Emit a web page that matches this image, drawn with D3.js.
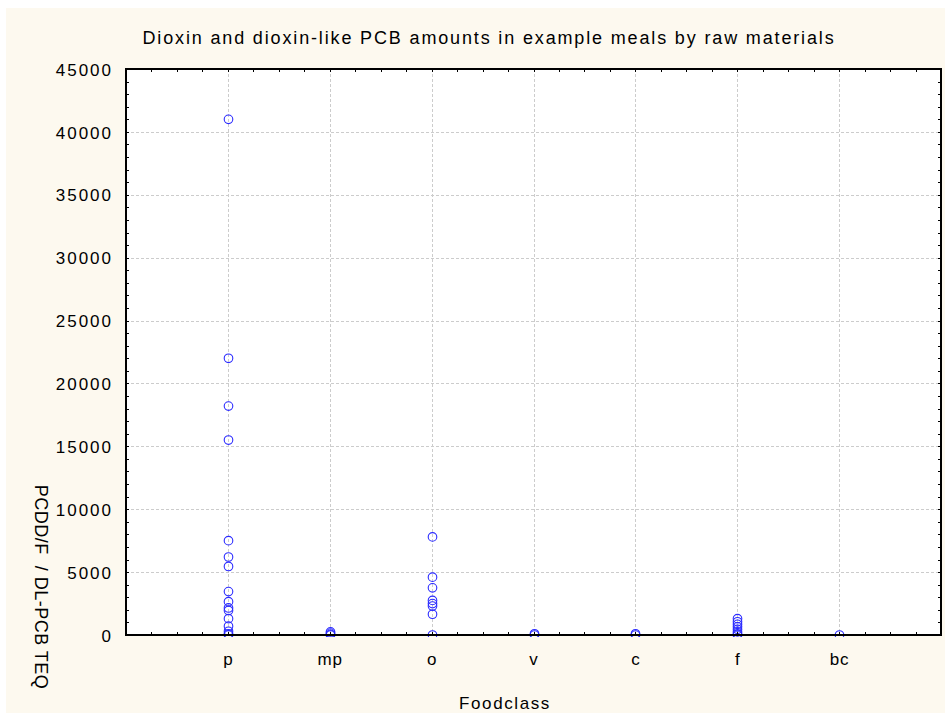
<!DOCTYPE html>
<html><head><meta charset="utf-8">
<script src="https://cdn.jsdelivr.net/npm/d3@7/dist/d3.min.js"></script>
<style>body{margin:0;background:#fff}svg{display:block}text{font-family:"Liberation Sans",Arial,sans-serif;fill:#000}</style>
</head><body><svg id="c" width="945" height="718"></svg>
<script>
const categories = ["p","mp","o","v","c","f","bc"];
const pValues  = [41000, 22000, 18200, 15500, 7500, 6200, 5450, 3450, 2650, 2150, 1950, 1300, 700, 300, 100, 0];
const mpValues = [250, 150, 50, 0];
const oValues  = [7800, 4600, 3750, 2750, 2500, 2300, 1650, 0];
const vValues  = [100, 0];
const cValues  = [100, 0];
const fValues  = [1300, 1050, 850, 650, 450, 250, 100, 0];
const bcValues = [0];
const seriesValues = [pValues, mpValues, oValues, vValues, cValues, fValues, bcValues];
const yTicks = [0,5000,10000,15000,20000,25000,30000,35000,40000,45000];
const title = "Dioxin and dioxin-like PCB amounts in example meals by raw materials";
const xTitle = "Foodclass";
const yTitle = "PCDD/F  / DL-PCB TEQ";

const svg = d3.select("#c");
const L=126, T=69, R=941, B=635;
svg.append("rect").attr("x",6).attr("y",8).attr("width",939).attr("height",705).attr("fill","#fdf9ef");
svg.append("rect").attr("x",L).attr("y",T).attr("width",R-L).attr("height",B-T).attr("fill","#fff");

const x = d3.scaleLinear().domain([0,8]).range([L,R]);
const y = d3.scaleLinear().domain([0,45000]).range([B,T]);

// grid
const g = svg.append("g").attr("stroke","#cccccc").attr("stroke-dasharray","3,2").attr("stroke-width",1);
yTicks.slice(1,-1).forEach(v=>g.append("line").attr("x1",L).attr("x2",R).attr("y1",Math.round(y(v))+0.5).attr("y2",Math.round(y(v))+0.5));
categories.forEach((c,i)=>g.append("line").attr("y1",T).attr("y2",B).attr("x1",Math.round(x(i+1))+0.5).attr("x2",Math.round(x(i+1))+0.5));

// points
svg.append("clipPath").attr("id","cp").append("rect").attr("x",L).attr("y",T).attr("width",R-L).attr("height",B-T+2);
const pts = svg.append("g").attr("clip-path","url(#cp)");
seriesValues.forEach((vals,i)=>{
  pts.selectAll(null).data(vals).enter().append("circle")
    .attr("cx",Math.round(x(i+1))+0.5).attr("cy",d=>y(d)).attr("r",4.3)
    .attr("fill","none").attr("stroke","#2a2aff").attr("stroke-width",1.1);
});

// frame & ticks
const ax = svg.append("g").attr("stroke","#000");
const minorX = d3.range(0,8.001,0.25), minorY = d3.range(0,45001,1000);
minorX.forEach(v=>{const xx=Math.round(x(v))+0.5;
  ax.append("line").attr("x1",xx).attr("x2",xx).attr("y1",B).attr("y2",B-3);
  ax.append("line").attr("x1",xx).attr("x2",xx).attr("y1",T).attr("y2",T+3);});
minorY.forEach(v=>{const yy=Math.round(y(v))+0.5;
  ax.append("line").attr("y1",yy).attr("y2",yy).attr("x1",L).attr("x2",L+3);
  ax.append("line").attr("y1",yy).attr("y2",yy).attr("x1",R).attr("x2",R-3);});
svg.append("rect").attr("x",L).attr("y",T).attr("width",R-L).attr("height",B-T).attr("fill","none").attr("stroke","#000").attr("stroke-width",2);

// y tick labels via axis
const yAxis = d3.axisLeft(y).tickValues(yTicks).tickSize(0).tickPadding(13).tickFormat(d3.format("d"));
const ya = svg.append("g").attr("transform",`translate(${L},0)`).call(yAxis);
ya.select(".domain").remove();
ya.selectAll("text").style("font-size","17px").style("letter-spacing","2px").attr("dy","0.36em");

const xAxis = d3.axisBottom(x).tickValues(categories.map((c,i)=>i+1)).tickSize(0).tickPadding(18).tickFormat((d)=>categories[d-1]);
const xa = svg.append("g").attr("transform",`translate(0,${B})`).call(xAxis);
xa.select(".domain").remove();
xa.selectAll("text").style("font-size","17px").style("letter-spacing","1px");

svg.append("text").attr("x",489).attr("y",44).attr("text-anchor","middle").style("font-size","18px").style("letter-spacing","1.85px").text(title);
svg.append("text").attr("x",505).attr("y",709).attr("text-anchor","middle").style("font-size","17px").style("letter-spacing","1.6px").text(xTitle);
svg.append("text").attr("transform","translate(35,587) rotate(90)").attr("text-anchor","middle").style("font-size","18px").style("letter-spacing","0.5px").attr("xml:space","preserve").text(yTitle);
</script></body></html>
